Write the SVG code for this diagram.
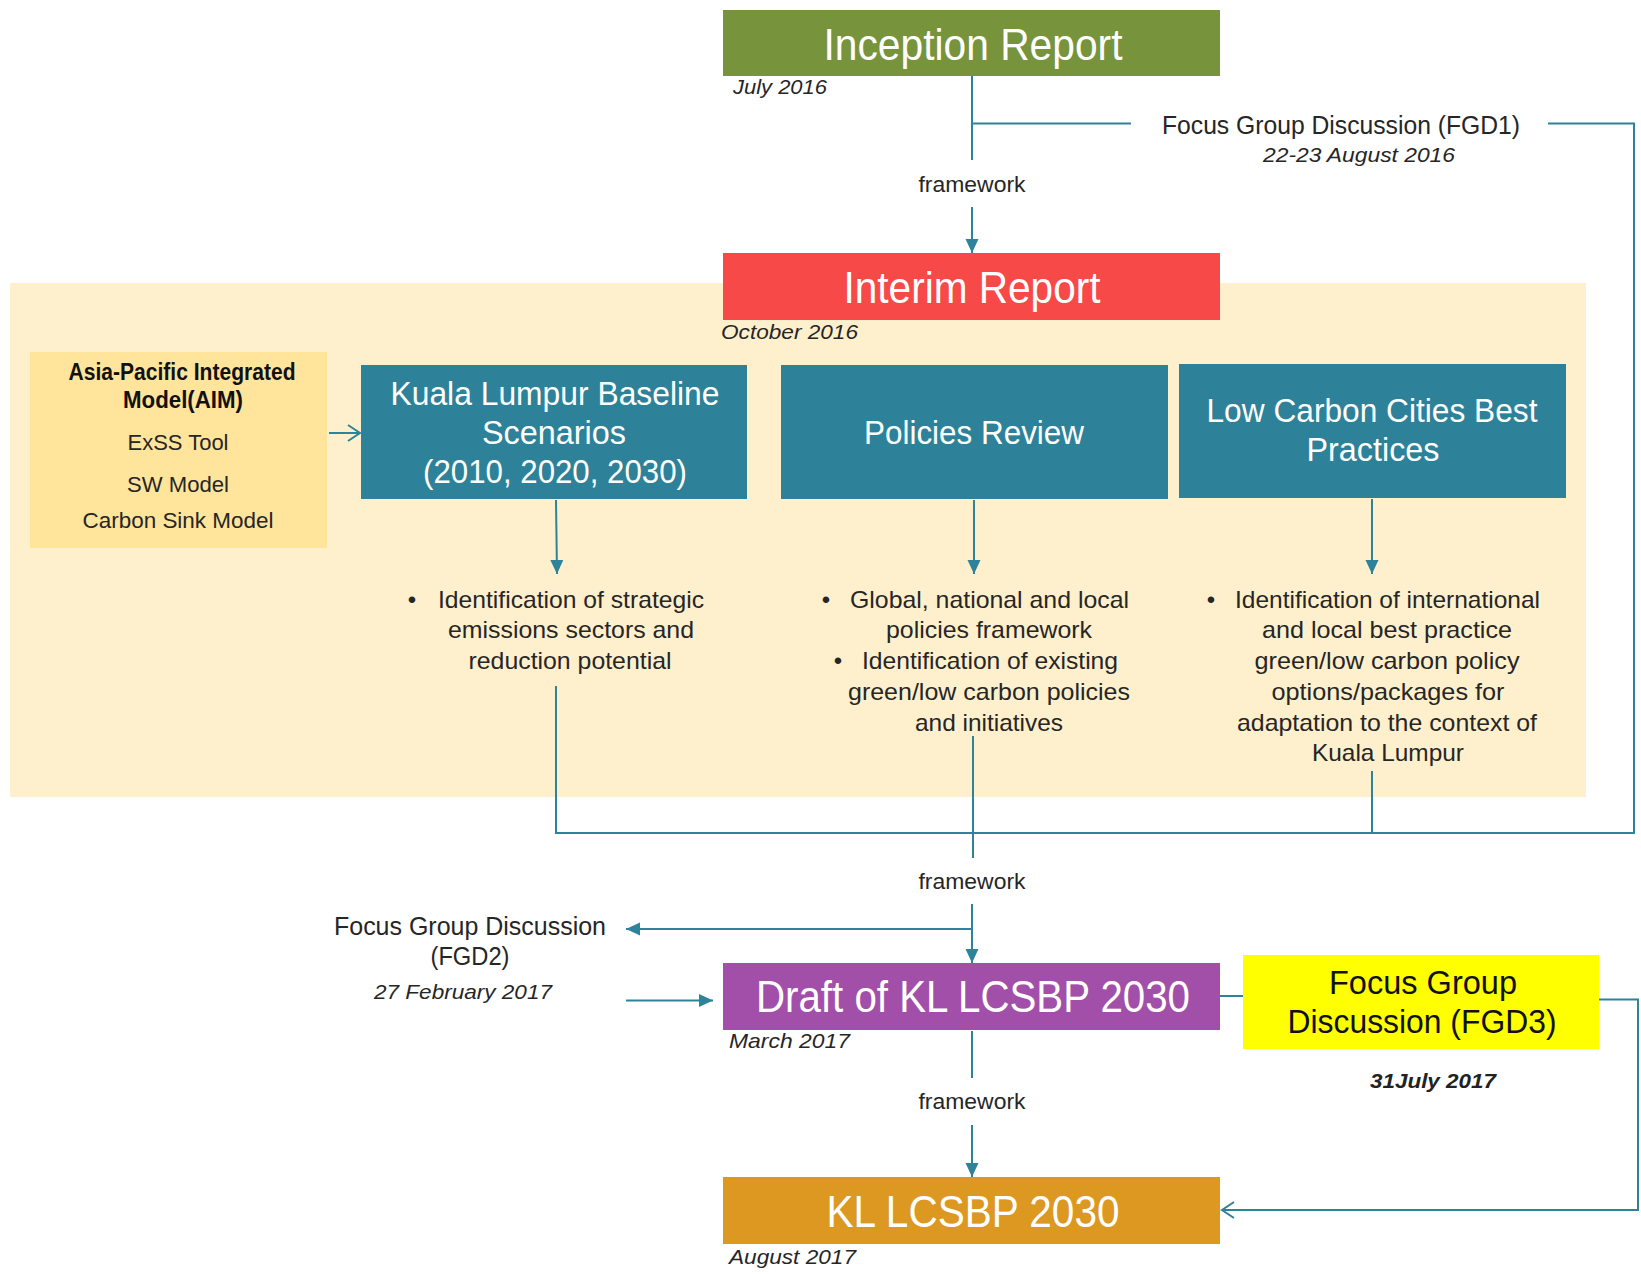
<svg xmlns="http://www.w3.org/2000/svg" width="1641" height="1274" viewBox="0 0 1641 1274">
<defs>
<style>
.t{font-family:"Liberation Sans",Arial,sans-serif;fill:#262626}
.w{font-family:"Liberation Sans",Arial,sans-serif;fill:#ffffff}
.i{font-family:"Liberation Sans",Arial,sans-serif;font-style:italic;fill:#262626}
.c{stroke:#2E8299;stroke-width:2;fill:none}
.m{text-anchor:middle}
</style>
<marker id="tri" markerWidth="16" markerHeight="14" refX="14" refY="7" orient="auto" markerUnits="userSpaceOnUse">
<path d="M0,0.5 L14,7 L0,13.5 Z" fill="#2E8299"/>
</marker>
<marker id="open" markerWidth="16" markerHeight="20" refX="14" refY="10" orient="auto" markerUnits="userSpaceOnUse">
<path d="M2,2 L14,10 L2,18" fill="none" stroke="#2E8299" stroke-width="2"/>
</marker>
</defs>
<rect width="1641" height="1274" fill="#ffffff"/>
<rect id="panel" x="10" y="283" width="1576" height="514" fill="#FEF0CD"/>

<g id="connectors">
<path class="c" d="M972,76 V160"/>
<path class="c" d="M972,123.5 H1131"/>
<path class="c" d="M972,207 V253" marker-end="url(#tri)"/>
<path class="c" d="M1548,123.5 H1634 V833 H556 V686"/>
<path class="c" d="M329,433 H360" marker-end="url(#open)"/>
<path class="c" d="M556,500 L557,574" marker-end="url(#tri)"/>
<path class="c" d="M974,500 V574" marker-end="url(#tri)"/>
<path class="c" d="M1372,499 V574" marker-end="url(#tri)"/>
<path class="c" d="M973,736 V858"/>
<path class="c" d="M1372,771 V833"/>
<path class="c" d="M972,904 V963" marker-end="url(#tri)"/>
<path class="c" d="M972,929 H626" marker-end="url(#tri)"/>
<path class="c" d="M626,1000.5 H713" marker-end="url(#tri)"/>
<path class="c" d="M1220,996 H1243"/>
<path class="c" d="M1599,999.5 H1638 V1210 H1222" marker-end="url(#open)"/>
<path class="c" d="M972,1031 V1078"/>
<path class="c" d="M972,1125 V1177" marker-end="url(#tri)"/>
</g>

<g id="inception">
<rect x="723" y="10" width="497" height="66" fill="#77933C"/>
<text class="w m" x="973" y="60" font-size="44" textLength="299" lengthAdjust="spacingAndGlyphs">Inception Report</text>
<text class="i" x="733" y="94" font-size="21" textLength="94" lengthAdjust="spacingAndGlyphs">July 2016</text>
</g>

<g id="fgd1">
<text class="t m" x="1341" y="134" font-size="25" textLength="358" lengthAdjust="spacingAndGlyphs">Focus Group Discussion (FGD1)</text>
<text class="i m" x="1359" y="162" font-size="21" textLength="192" lengthAdjust="spacingAndGlyphs">22-23 August 2016</text>
</g>

<g id="label-framework1">
<text class="t m" x="972" y="192" font-size="22" textLength="107" lengthAdjust="spacingAndGlyphs">framework</text>
</g>

<g id="interim">
<rect x="723" y="253" width="497" height="67" fill="#F84949"/>
<text class="w m" x="972" y="303" font-size="44" textLength="257" lengthAdjust="spacingAndGlyphs">Interim Report</text>
<text class="i" x="721" y="339" font-size="21" textLength="137" lengthAdjust="spacingAndGlyphs">October 2016</text>
</g>

<g id="aim">
<rect x="30" y="352" width="297" height="196" fill="#FFE49B"/>
<text class="t m" x="182" y="380" font-size="23" font-weight="bold" textLength="227" lengthAdjust="spacingAndGlyphs" style="fill:#111">Asia-Pacific Integrated</text>
<text class="t m" x="183" y="408" font-size="23" font-weight="bold" textLength="120" lengthAdjust="spacingAndGlyphs" style="fill:#111">Model(AIM)</text>
<text class="t m" x="178" y="450" font-size="22" textLength="101" lengthAdjust="spacingAndGlyphs">ExSS Tool</text>
<text class="t m" x="178" y="492" font-size="22" textLength="102" lengthAdjust="spacingAndGlyphs">SW Model</text>
<text class="t m" x="178" y="528" font-size="22" textLength="191" lengthAdjust="spacingAndGlyphs">Carbon Sink Model</text>
</g>

<g id="kl-baseline">
<rect x="361" y="365" width="386" height="134" fill="#2D8299"/>
<text class="w m" x="555" y="405" font-size="33" textLength="329" lengthAdjust="spacingAndGlyphs">Kuala Lumpur Baseline</text>
<text class="w m" x="554" y="444" font-size="33" textLength="144" lengthAdjust="spacingAndGlyphs">Scenarios</text>
<text class="w m" x="555" y="483" font-size="33" textLength="264" lengthAdjust="spacingAndGlyphs">(2010, 2020, 2030)</text>
</g>

<g id="policies">
<rect x="781" y="365" width="387" height="134" fill="#2D8299"/>
<text class="w m" x="974" y="444" font-size="33" textLength="220" lengthAdjust="spacingAndGlyphs">Policies Review</text>
</g>

<g id="low-carbon">
<rect x="1179" y="364" width="387" height="134" fill="#2D8299"/>
<text class="w m" x="1372" y="422" font-size="33" textLength="331" lengthAdjust="spacingAndGlyphs">Low Carbon Cities Best</text>
<text class="w m" x="1373" y="461" font-size="33" textLength="133" lengthAdjust="spacingAndGlyphs">Practices</text>
</g>

<g id="col1">
<text class="t m" x="412" y="608" font-size="24">•</text>
<text class="t" x="438" y="608" font-size="24" textLength="266" lengthAdjust="spacingAndGlyphs">Identification of strategic</text>
<text class="t m" x="571" y="638" font-size="24" textLength="246" lengthAdjust="spacingAndGlyphs">emissions sectors and</text>
<text class="t m" x="570" y="669" font-size="24" textLength="203" lengthAdjust="spacingAndGlyphs">reduction potential</text>
</g>

<g id="col2">
<text class="t m" x="826" y="608" font-size="24">•</text>
<text class="t" x="850" y="608" font-size="24" textLength="279" lengthAdjust="spacingAndGlyphs">Global, national and local</text>
<text class="t m" x="989" y="638" font-size="24" textLength="206" lengthAdjust="spacingAndGlyphs">policies framework</text>
<text class="t m" x="838" y="669" font-size="24">•</text>
<text class="t" x="862" y="669" font-size="24" textLength="256" lengthAdjust="spacingAndGlyphs">Identification of existing</text>
<text class="t m" x="989" y="700" font-size="24" textLength="282" lengthAdjust="spacingAndGlyphs">green/low carbon policies</text>
<text class="t m" x="989" y="731" font-size="24" textLength="148" lengthAdjust="spacingAndGlyphs">and initiatives</text>
</g>

<g id="col3">
<text class="t m" x="1211" y="608" font-size="24">•</text>
<text class="t" x="1235" y="608" font-size="24" textLength="305" lengthAdjust="spacingAndGlyphs">Identification of international</text>
<text class="t m" x="1387" y="638" font-size="24" textLength="250" lengthAdjust="spacingAndGlyphs">and local best practice</text>
<text class="t m" x="1387" y="669" font-size="24" textLength="265" lengthAdjust="spacingAndGlyphs">green/low carbon policy</text>
<text class="t m" x="1388" y="700" font-size="24" textLength="233" lengthAdjust="spacingAndGlyphs">options/packages for</text>
<text class="t m" x="1387" y="731" font-size="24" textLength="300" lengthAdjust="spacingAndGlyphs">adaptation to the context of</text>
<text class="t m" x="1388" y="761" font-size="24" textLength="152" lengthAdjust="spacingAndGlyphs">Kuala Lumpur</text>
</g>

<g id="label-framework2">
<text class="t m" x="972" y="889" font-size="22" textLength="107" lengthAdjust="spacingAndGlyphs">framework</text>
</g>

<g id="fgd2">
<text class="t m" x="470" y="935" font-size="25" textLength="272" lengthAdjust="spacingAndGlyphs">Focus Group Discussion</text>
<text class="t m" x="470" y="965" font-size="25" textLength="79" lengthAdjust="spacingAndGlyphs">(FGD2)</text>
<text class="i m" x="463" y="999" font-size="21" textLength="178" lengthAdjust="spacingAndGlyphs">27 February 2017</text>
</g>

<g id="draft">
<rect x="723" y="963" width="497" height="67" fill="#A24FAA"/>
<text class="w m" x="973" y="1012" font-size="44" textLength="434" lengthAdjust="spacingAndGlyphs">Draft of KL LCSBP 2030</text>
<text class="i" x="729" y="1048" font-size="21" textLength="121" lengthAdjust="spacingAndGlyphs">March 2017</text>
</g>

<g id="fgd3">
<rect x="1243" y="955" width="356" height="94" fill="#FFFF00"/>
<text class="t m" x="1423" y="994" font-size="33" textLength="188" lengthAdjust="spacingAndGlyphs" style="fill:#111">Focus Group</text>
<text class="t m" x="1422" y="1033" font-size="33" textLength="269" lengthAdjust="spacingAndGlyphs" style="fill:#111">Discussion (FGD3)</text>
<text class="i m" x="1433" y="1088" font-size="21" font-weight="bold" textLength="126" lengthAdjust="spacingAndGlyphs" style="fill:#222">31July 2017</text>
</g>

<g id="label-framework3">
<text class="t m" x="972" y="1109" font-size="22" textLength="107" lengthAdjust="spacingAndGlyphs">framework</text>
</g>

<g id="final">
<rect x="723" y="1177" width="497" height="67" fill="#DC9820"/>
<text class="w m" x="973" y="1227" font-size="44" textLength="293" lengthAdjust="spacingAndGlyphs">KL LCSBP 2030</text>
<text class="i" x="729" y="1264" font-size="21" textLength="127" lengthAdjust="spacingAndGlyphs">August 2017</text>
</g>
</svg>
